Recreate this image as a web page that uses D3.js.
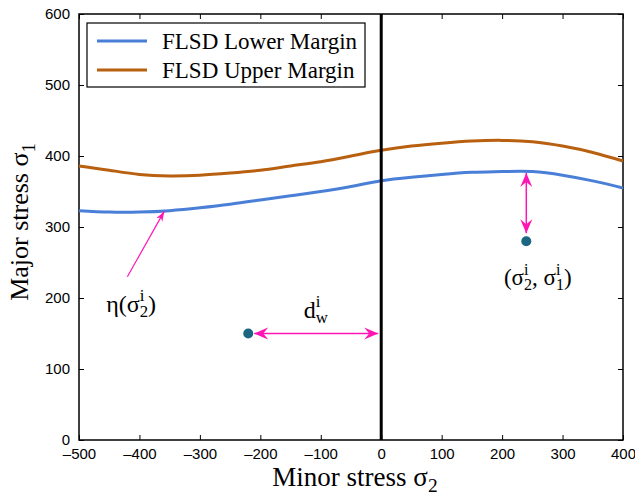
<!DOCTYPE html>
<html>
<head>
<meta charset="utf-8">
<script src="https://cdn.jsdelivr.net/npm/d3@7"></script>
<style>
  body { margin: 0; background: #fff; }
  .tick text { font-family: "Liberation Sans", Arial, sans-serif; font-size: 15px; fill: #000; }
  .lab { font-family: "Liberation Serif", "Times New Roman", serif; fill: #000; }
</style>
</head>
<body>
<svg id="chart" width="635" height="498"></svg>
<script>
// minor stress sample positions and the two margin curves
var sigma2 = [-500, -450, -400, -350, -300, -250, -200, -150, -100, -50,
  0, 50, 100, 150, 200, 250, 300, 350, 400];
var lowerMargin = [323, 321, 321, 323, 327, 332, 338, 344, 350, 357,
  365, 370, 374, 377, 378, 378, 373, 365, 355];
var upperMargin = [386, 380, 374, 372, 373, 376, 380, 386, 392, 400,
  408, 414, 418, 421, 422, 420, 414, 405, 393];
var seriesNames = ['FLSD Lower Margin', 'FLSD Upper Margin'];
var xTicks = [-500, -400, -300, -200, -100, 0, 100, 200, 300, 400];
var yTicks = [0, 100, 200, 300, 400, 500, 600];
// sample points (sigma2, sigma1)
var pointA = [-220, 150];
var pointB = [240, 280];

var colors = ['#4a7fd8', '#b8600f'];
var magenta = '#ff14b4';

var svg = d3.select('#chart'),
    margin = { top: 14, right: 12, bottom: 58, left: 79 },
    width = 635 - margin.left - margin.right,
    height = 498 - margin.top - margin.bottom;

var x = d3.scaleLinear().domain([-500, 400]).range([0, width]);
var y = d3.scaleLinear().domain([0, 600]).range([height, 0]);

var defs = svg.append('defs');
defs.append('marker')
  .attr('id', 'head')
  .attr('viewBox', '-14 -7 16 14')
  .attr('refX', 0).attr('refY', 0)
  .attr('markerWidth', 16).attr('markerHeight', 14)
  .attr('markerUnits', 'userSpaceOnUse')
  .attr('orient', 'auto-start-reverse')
  .append('path')
  .attr('d', 'M0,0 L-14,-6 L-9,0 L-14,6 Z')
  .attr('fill', magenta);
defs.append('marker')
  .attr('id', 'thin')
  .attr('viewBox', '-10 -4 11 8')
  .attr('refX', 0).attr('refY', 0)
  .attr('markerWidth', 11).attr('markerHeight', 8)
  .attr('markerUnits', 'userSpaceOnUse')
  .attr('orient', 'auto')
  .append('path')
  .attr('d', 'M0,0 L-10,-3.5 L-7,0 L-10,3.5 Z')
  .attr('fill', magenta);

var g = svg.append('g')
  .attr('transform', 'translate(' + margin.left + ',' + margin.top + ')');

// axes with inward ticks, box style
g.append('g')
  .attr('transform', 'translate(0,' + height + ')')
  .call(d3.axisBottom(x).tickValues(xTicks).tickSizeInner(-5).tickSizeOuter(0)
    .tickPadding(8).tickFormat(function(d) { return d < 0 ? '\u2013' + (-d) : d; }));
g.append('g')
  .call(d3.axisLeft(y).tickValues(yTicks).tickSizeInner(-5).tickSizeOuter(0).tickPadding(9));
g.append('g')
  .call(d3.axisTop(x).tickValues(xTicks).tickSizeInner(-5).tickSizeOuter(0).tickFormat(''));
g.append('g')
  .attr('transform', 'translate(' + width + ',0)')
  .call(d3.axisRight(y).tickValues(yTicks).tickSizeInner(-5).tickSizeOuter(0).tickFormat(''));
g.selectAll('.domain').remove();
g.selectAll('.tick line').attr('stroke', '#000');

g.append('rect')
  .attr('width', width).attr('height', height)
  .attr('fill', 'none').attr('stroke', '#000').attr('stroke-width', 1.5);

var line = d3.line()
  .x(function(d) { return x(d[0]); })
  .y(function(d) { return y(d[1]); })
  .curve(d3.curveNatural);

[lowerMargin, upperMargin].forEach(function(vals, i) {
  g.append('path')
    .datum(sigma2.map(function(s, j) { return [s, vals[j]]; }))
    .attr('d', line)
    .attr('fill', 'none')
    .attr('stroke', colors[i])
    .attr('stroke-width', 3);
});

// sigma2 = 0 line
g.append('line')
  .attr('x1', x(0)).attr('x2', x(0))
  .attr('y1', 0).attr('y2', height)
  .attr('stroke', '#000').attr('stroke-width', 3);

// arrows
g.append('line')
  .attr('x1', x(pointA[0]) + 6).attr('y1', y(pointA[1]))
  .attr('x2', x(0) - 3).attr('y2', y(pointA[1]))
  .attr('stroke', magenta).attr('stroke-width', 1.5)
  .attr('marker-start', 'url(#head)').attr('marker-end', 'url(#head)');
g.append('line')
  .attr('x1', x(pointB[0])).attr('y1', y(pointB[1]) - 8)
  .attr('x2', x(pointB[0])).attr('y2', y(377.5) + 1)
  .attr('stroke', magenta).attr('stroke-width', 1.5)
  .attr('marker-start', 'url(#head)').attr('marker-end', 'url(#head)');
g.append('line')
  .attr('x1', x(-420)).attr('y1', y(230))
  .attr('x2', x(-359)).attr('y2', y(322))
  .attr('stroke', magenta).attr('stroke-width', 1.2)
  .attr('marker-end', 'url(#thin)');

// points
g.selectAll('circle.pt')
  .data([pointA, pointB])
  .enter().append('circle')
  .attr('class', 'pt')
  .attr('cx', function(d) { return x(d[0]); })
  .attr('cy', function(d) { return y(d[1]); })
  .attr('r', 5)
  .attr('fill', '#1b6680');

// symbol with a subscript and a superscript stacked above it;
// returns the shift that the next tspan needs to get back on the baseline
function supSub(text, base, sub, sup) {
  text.append('tspan').text(base);
  var s = text.append('tspan').attr('font-size', '0.7em').attr('dy', '0.3em').text(sub);
  var ws = s.node().getComputedTextLength();
  var p = text.append('tspan').attr('font-size', '0.7em').attr('dx', -ws).attr('dy', '-0.95em').text(sup);
  var wp = p.node().getComputedTextLength();
  var fs = parseFloat(text.attr('font-size'));
  return { dx: Math.max(ws - wp, 0), dy: 0.665 * fs - 0.21 * fs };
}
function after(text, str, shift) {
  return text.append('tspan').attr('dx', shift ? shift.dx : 0)
    .attr('dy', shift ? shift.dy : 0).text(str);
}

var eta = g.append('text').attr('class', 'lab')
  .attr('x', x(-455)).attr('y', y(180)).attr('font-size', 24);
eta.append('tspan').text('\u03b7(');
after(eta, ')', supSub(eta, '\u03c3', '2', 'i'));

var dw = g.append('text').attr('class', 'lab')
  .attr('x', x(-128)).attr('y', y(172)).attr('font-size', 24);
supSub(dw, 'd', 'w', 'i');

var pl = g.append('text').attr('class', 'lab')
  .attr('x', x(203)).attr('y', y(218)).attr('font-size', 23);
pl.append('tspan').text('(');
after(pl, ', ', supSub(pl, '\u03c3', '2', 'i'));
after(pl, ')', supSub(pl, '\u03c3', '1', 'i'));

// axis titles
var xt = svg.append('text').attr('class', 'lab')
  .attr('x', 355).attr('y', 486).attr('font-size', 27)
  .attr('text-anchor', 'middle');
xt.append('tspan').text('Minor stress \u03c3');
xt.append('tspan').attr('font-size', '0.72em').attr('dy', '0.3em').text('2');

var yt = svg.append('text').attr('class', 'lab')
  .attr('transform', 'translate(28,222) rotate(-90)')
  .attr('font-size', 26).attr('text-anchor', 'middle');
yt.append('tspan').text('Major stress \u03c3');
yt.append('tspan').attr('font-size', '0.72em').attr('dy', '0.35em').text('1');

// legend
var lg = g.append('g').attr('transform', 'translate(8,9)');
lg.append('rect')
  .attr('width', 278).attr('height', 64)
  .attr('fill', '#fff').attr('stroke', '#000').attr('stroke-width', 1.2);
seriesNames.forEach(function(name, i) {
  var row = lg.append('g').attr('transform', 'translate(0,' + (18 + i * 29) + ')');
  row.append('line')
    .attr('x1', 10).attr('x2', 60)
    .attr('stroke', colors[i]).attr('stroke-width', 3);
  row.append('text').attr('class', 'lab')
    .attr('x', 75).attr('dy', '0.35em').attr('font-size', 23)
    .text(name);
});
</script>
</body>
</html>
